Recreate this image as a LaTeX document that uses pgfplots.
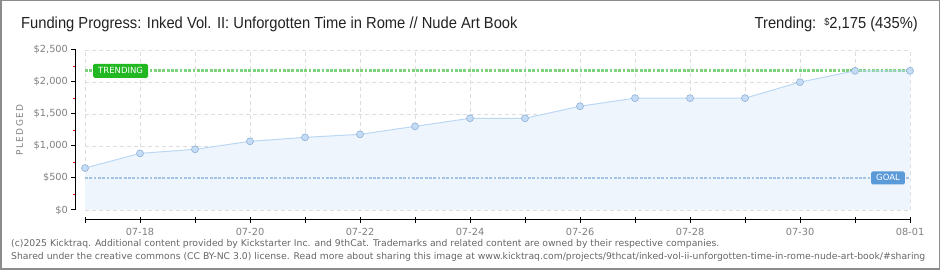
\documentclass[border=0pt]{standalone}
\usepackage{pgfplots}
\pgfplotsset{compat=1.18}
\usepackage{pgfplotstable}
\usepackage{fontspec}
\setmainfont{DejaVu Sans}
\newfontfamily\titlefont{Liberation Sans}[FakeStretch=0.92]
\newfontfamily\pledfont{DejaVu Sans}[LetterSpace=16]
\newfontfamily\tickfont{DejaVu Sans}
\definecolor{areafill}{HTML}{EEF5FD}
\definecolor{linecol}{HTML}{BCD7F3}
\definecolor{markfill}{HTML}{C4DCF6}
\definecolor{markedge}{HTML}{8FB0D6}
\definecolor{trendgreen}{HTML}{22B822}
\definecolor{trenddot}{HTML}{7DD37D}
\definecolor{goalblue}{HTML}{5B9AD8}
\definecolor{goaldot}{HTML}{A4C2E4}
\definecolor{gridgray}{HTML}{DDDDDD}
\definecolor{tickgray}{HTML}{808080}
\definecolor{framegray}{HTML}{8C8C8C}
\definecolor{footgray}{HTML}{666666}
\definecolor{titleblack}{HTML}{222222}

\pgfplotstableread{
x y
0 655
1 885
2 948
3 1073
4 1135
5 1182
6 1307
7 1433
8 1433
9 1621
10 1748
11 1748
12 1748
13 1998
14 2175
15 2175
}\pledged

\begin{document}
\begin{tikzpicture}[x=1pt,y=1pt]
\useasboundingbox (0,0) rectangle (940,270);
\draw[framegray, line width=1.5pt] (0.75,0.75) rectangle (939.25,269.25);

% main plot area
\begin{axis}[at={(85pt,60pt)}, anchor=south west, scale only axis,
  width=825pt, height=160pt,
  xmin=0, xmax=15, ymin=0, ymax=2500,
  axis line style={draw=none},
  xtick={0,...,15}, ytick={0,500,...,2500},
  xticklabels={}, yticklabels={},
  major tick length=0pt,
  grid=major,
  major grid style={color=gridgray, line width=0.8pt, dash pattern=on 4pt off 3pt},
  clip=false]
\addplot[fill=areafill, draw=none] table {\pledged} \closedcycle;
\addplot[goaldot, line width=2.8pt, dash pattern=on 2.8pt off 1.5pt] coordinates {(0,500) (15,500)};
\addplot[trenddot, line width=2.8pt, dash pattern=on 2.8pt off 1.5pt] coordinates {(0,2175) (15,2175)};
\addplot[linecol, line width=1pt, mark=*, mark size=3.5pt,
  mark options={fill=markfill, draw=markedge, line width=0.6pt}] table {\pledged};
\node[fill=trendgreen, text=white, font=\tickfont\fontsize{8.5}{9}\selectfont,
  rounded corners=1.5pt, inner xsep=5pt, inner ysep=4pt, text height=6pt, text depth=0pt,
  anchor=west] at (axis cs:0.145,2175) {TRENDING};
\node[fill=goalblue, text=white, font=\tickfont\fontsize{8.5}{9}\selectfont,
  rounded corners=1.5pt, inner xsep=5pt, inner ysep=3.5pt, text height=6pt, text depth=0pt,
  anchor=center] at (axis cs:14.6,500) {GOAL};
\end{axis}

% y axis
\begin{axis}[at={(76pt,60pt)}, anchor=south west, scale only axis,
  width=10pt, height=160pt,
  xmin=0, xmax=1, ymin=0, ymax=2500,
  axis y line*=left, axis x line=none,
  ytick={0,500,...,2500},
  minor ytick={250,750,1250,1750,2250},
  yticklabels={{\$0},{\$500},{\$1,000},{\$1,500},{\$2,000},{\$2,500}},
  tick align=outside,
  major tick length=4.5pt, minor tick length=3pt,
  major tick style={black, line width=1pt},
  minor tick style={red, line width=0.8pt},
  axis line style={black, line width=1pt, -},
  yticklabel style={font=\tickfont\fontsize{9.8}{10}\selectfont, text=tickgray}]
\addplot[draw=none] coordinates {(0,0)};
\end{axis}

% x axis
\begin{axis}[at={(85pt,50pt)}, anchor=south west, scale only axis,
  width=825pt, height=5pt,
  xmin=0, xmax=15, ymin=0, ymax=1,
  axis x line*=bottom, axis y line=none,
  xtick={0,...,15},
  xticklabels={,07-18,,07-20,,07-22,,07-24,,07-26,,07-28,,07-30,,08-01},
  tick align=center, major tick length=6pt,
  major tick style={black, line width=1pt},
  axis line style={black, line width=1pt, -},
  xticklabel style={font=\tickfont\fontsize{9.8}{10}\selectfont, text=tickgray, yshift=-2pt}]
\addplot[draw=none] coordinates {(0,0)};
\end{axis}

% y label
\node[rotate=90, font=\pledfont\fontsize{9}{9}\selectfont, text=tickgray] at (19.5,140) {PLEDGED};

% title
\node[anchor=west, inner sep=0pt, text=titleblack] at (21,246)
  {\titlefont\fontsize{16}{16}\selectfont Funding Progress: Inked Vol. II: Unforgotten Time in Rome // Nude Art Book};
\node[anchor=east, inner sep=0pt, text=titleblack] at (918,246)
  {\titlefont\fontsize{16}{16}\selectfont Trending:\enspace\raisebox{3pt}{\fontsize{10}{10}\selectfont\$}2,175 (435\%)};

% footer
\node[anchor=north west, inner sep=0pt, text=footgray] at (11,33)
  {\resizebox{914pt}{!}{\begin{tabular}{@{}l@{}}\fontsize{8}{12}\selectfont (c)2025 Kicktraq. Additional content provided by Kickstarter Inc. and 9thCat. Trademarks and related content are owned by their respective companies.\\[-1pt]
  \fontsize{8}{12}\selectfont Shared under the creative commons (CC BY-NC 3.0) license. Read more about sharing this image at www.kicktraq.com/projects/9thcat/inked-vol-ii-unforgotten-time-in-rome-nude-art-book/\#sharing\end{tabular}}};
\end{tikzpicture}
\end{document}
